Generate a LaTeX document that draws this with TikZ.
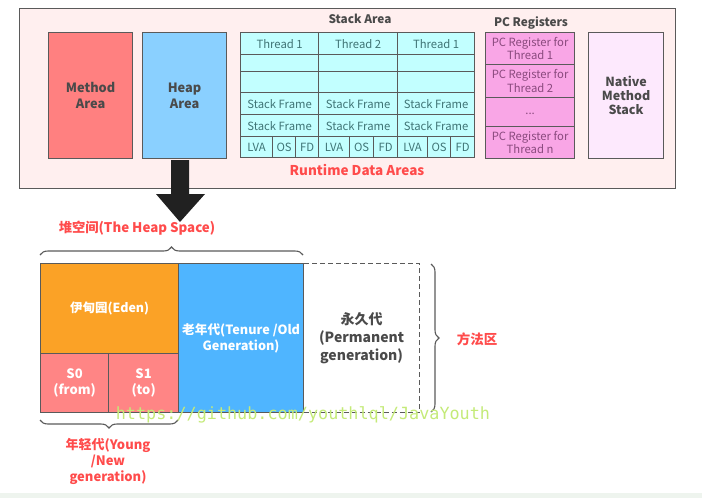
\documentclass[tikz,border=0pt]{standalone}
\usepackage{fontspec}
\setmainfont{Noto Sans CJK SC}
\newfontfamily\wmfont{DejaVu Sans Mono}
\usetikzlibrary{decorations.pathreplacing}
\definecolor{bordc}{HTML}{5A5A5A}
\definecolor{outerfill}{HTML}{FFEFEF}
\definecolor{methodc}{HTML}{FF8080}
\definecolor{heapc}{HTML}{8AD0FF}
\definecolor{stackc}{HTML}{C2FFFF}
\definecolor{pcc}{HTML}{F9A6E6}
\definecolor{nativec}{HTML}{FDE9FD}
\definecolor{edenc}{HTML}{FBA226}
\definecolor{survc}{HTML}{FF8585}
\definecolor{oldc}{HTML}{4FB5FF}
\definecolor{redtxt}{HTML}{FF4B4B}
\definecolor{darktxt}{HTML}{4A4A4A}
\definecolor{celltxt}{HTML}{3F7475}
\definecolor{pctxt}{HTML}{8A4A7E}
\definecolor{wmc}{HTML}{C4EA78}
\definecolor{stripc}{HTML}{EEF4EE}
\tikzset{
  box/.style={draw=bordc, line width=1.2pt, inner sep=0pt, anchor=north west, align=center},
  cell/.style={box, fill=stackc, text=celltxt, font=\fontsize{11.3}{12}\selectfont},
  pcbox/.style={box, fill=pcc, text=pctxt, font=\fontsize{11.3}{13.5}\selectfont},
  bigbox/.style={box, text=darktxt, font=\bfseries\fontsize{12.8}{16}\selectfont},
  heapbox/.style={box, text=white, font=\bfseries\fontsize{12.5}{16}\selectfont},
  redlbl/.style={text=redtxt, font=\bfseries\fontsize{13.3}{16}\selectfont, inner sep=0pt, align=center},
  titlelbl/.style={text=darktxt, font=\bfseries\fontsize{11.8}{13}\selectfont, inner sep=0pt},
  bracec/.style={draw=bordc, line width=1.1pt, decorate, decoration={brace, amplitude=8pt}},
}
\newcommand{\cellbox}[6]{% name, x1, y1, x2, y2, text
  \node[cell, minimum width={(#4-#2)*1pt}, minimum height={(#5-#3)*1pt}] (#1) at (#2,#3) {#6};}
\begin{document}
\begin{tikzpicture}[x=1pt,y=-1pt]
\useasboundingbox (0,0) rectangle (702,498);
\fill[stripc] (0,493) rectangle (702,498);
% outer runtime box
\node[box, fill=outerfill, minimum width=656pt, minimum height=180pt] (runtime) at (19,8) {};
\node[bigbox, fill=methodc, minimum width=84pt, minimum height=126pt] (method) at (48,32) {Method\\Area};
\node[bigbox, fill=heapc, minimum width=84pt, minimum height=126pt] (heaparea) at (142,32) {Heap\\Area};
\node[titlelbl] (stacktitle) at (360,19) {Stack Area};
% stack grid
\foreach \c/\xa/\xb/\t in {1/240/318/Thread 1, 2/318/397/Thread 2, 3/397/474/Thread 1}{
  \cellbox{s\c r1}{\xa}{32}{\xb}{54}{\t}
  \cellbox{s\c r2}{\xa}{54}{\xb}{71}{}
  \cellbox{s\c r3}{\xa}{71}{\xb}{92}{}
  \cellbox{s\c r4}{\xa}{92}{\xb}{114}{Stack Frame}
  \cellbox{s\c r5}{\xa}{114}{\xb}{136}{Stack Frame}
}
\foreach \c/\xa/\xm/\xn/\xb in {1/240/272/295/318, 2/318/349/373/397, 3/397/427/450/474}{
  \cellbox{s\c lva}{\xa}{136}{\xm}{157}{LVA}
  \cellbox{s\c os}{\xm}{136}{\xn}{157}{OS}
  \cellbox{s\c fd}{\xn}{136}{\xb}{157}{FD}
}
% PC registers
\node[titlelbl] (pctitle) at (531,23) {PC Registers};
\node[pcbox, minimum width=89pt, minimum height=32pt] (pc1) at (485,32) {PC Register for\\Thread 1};
\node[pcbox, minimum width=89pt, minimum height=33pt] (pc2) at (485,64) {PC Register for\\Thread 2};
\node[pcbox, minimum width=89pt, minimum height=29pt] (pc3) at (485,97) {\raisebox{-4pt}{...}};
\node[pcbox, minimum width=89pt, minimum height=32pt] (pc4) at (485,126) {PC Register for\\Thread n};
\node[bigbox, fill=nativec, minimum width=75pt, minimum height=126pt, font=\bfseries\fontsize{12.5}{14}\selectfont] (native) at (588,32) {Native\\Method\\Stack};
\node[redlbl, font=\bfseries\fontsize{13.5}{16}\selectfont] (rtlbl) at (357,170) {Runtime Data Areas};
% arrow
\fill[black!87] (171,160) -- (189,160) -- (189,194) -- (205,194) -- (180,222) -- (156,194) -- (171,194) -- cycle;
% heap space
\node[redlbl] (heaplbl) at (137,228) {堆空间(The Heap Space)};
\node[heapbox, fill=edenc, minimum width=138pt, minimum height=90pt] (eden) at (40,263) {伊甸园(Eden)};
\node[heapbox, fill=survc, minimum width=68pt, minimum height=59pt, font=\bfseries\fontsize{13}{16}\selectfont] (s0) at (40,353) {S0\\(from)};
\node[heapbox, fill=survc, minimum width=70pt, minimum height=59pt, font=\bfseries\fontsize{13}{16}\selectfont] (s1) at (108,353) {S1\\(to)};
\node[heapbox, fill=oldc, minimum width=125pt, minimum height=149pt, font=\bfseries\fontsize{12.7}{16}\selectfont] (old) at (178,263) {老年代(Tenure /Old\\Generation)};
\node[box, draw=bordc, dash pattern=on 5pt off 3pt, text=darktxt, font=\bfseries\fontsize{14}{18}\selectfont, minimum width=116pt, minimum height=149pt] (perm) at (303,263) {永久代\\(Permanent\\generation)};
% braces
\coordinate (hbL) at (40,255);
\coordinate (hbR) at (303,255);
\draw[bracec] (hbL) -- (hbR);
\coordinate (pbT) at (431,264);
\coordinate (pbB) at (431,412);
\draw[bracec] (pbT) -- (pbB);
\coordinate (ybR) at (178,420);
\coordinate (ybL) at (40,420);
\draw[bracec] (ybR) -- (ybL);
\node[redlbl, font=\bfseries\fontsize{13.5}{16}\selectfont] (methodlbl) at (477,339) {方法区};
\node[redlbl, font=\bfseries\fontsize{13}{16}\selectfont] (younglbl) at (108,461) {年轻代(Young\\/New\\generation)};
% watermark
\node[text=wmc, font=\wmfont\fontsize{16.8}{17}\selectfont, inner sep=0pt] (wm) at (303,415) {https://github.com/youthlql/JavaYouth};
\end{tikzpicture}
\end{document}
